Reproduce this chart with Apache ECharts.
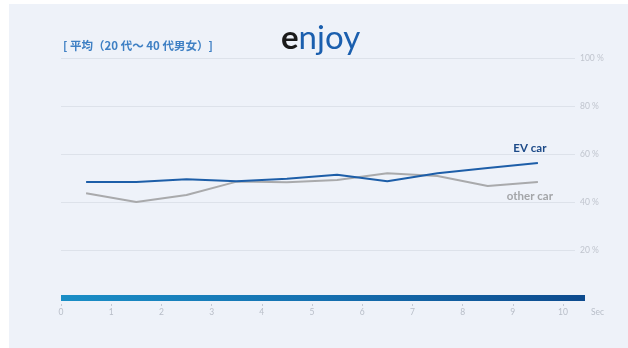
<!DOCTYPE html>
<html>
<head>
<meta charset="utf-8">
<script src="https://cdn.jsdelivr.net/npm/echarts@6/dist/echarts.min.js"></script>
<style>
  html, body { margin: 0; padding: 0; background: #ffffff; }
  #panel { position: absolute; left: 9px; top: 4px; right: 0; bottom: 0; background: #eef2f9; }
  #chart { position: absolute; left: 0; top: 0; width: 628px; height: 348px; }
</style>
</head>
<body>
<div id="panel"></div>
<div id="chart"></div>
<script>
// Time in seconds at which each sample was taken
const seconds = [0.5, 1.5, 2.5, 3.5, 4.5, 5.5, 6.5, 7.5, 8.5, 9.5];
// Average share (%) for each vehicle type
const evCar = [48.3, 48.3, 49.5, 48.6, 49.7, 51.4, 48.6, 52.0, 54.2, 56.3];
const otherCar = [43.6, 40.0, 42.9, 48.5, 48.2, 49.2, 52.0, 50.8, 46.7, 48.3];
// Axis ticks
const secTicks = [0, 1, 2, 3, 4, 5, 6, 7, 8, 9, 10];
const pctTicks = [0, 20, 40, 60, 80, 100];

const seriesNames = ['EV car', 'other car'];
const titleText = '[ 平均（20 代～ 40 代男女）]';

const chart = echarts.init(document.getElementById('chart'), null, { renderer: 'canvas' });

const pairs = (ys) => seconds.map((x, i) => [x, ys[i]]);

const option = {
  backgroundColor: 'transparent',
  animation: false,
  title: [
    {
      text: titleText,
      left: 58, top: 35,
      textStyle: { color: '#3f80c4', fontSize: 11.5, fontWeight: 'bold', fontFamily: 'Noto Sans CJK JP' }
    },
    {
      text: '{e|e}{n|njoy}',
      left: 276, top: 17,
      textStyle: {
        rich: {
          e: { color: '#1a1a1a', fontSize: 33, fontFamily: 'Lato', fontWeight: 'bold' },
          n: { color: '#1b5fae', fontSize: 33, fontFamily: 'Lato', fontWeight: 'normal' }
        }
      }
    }
  ],
  grid: [
    { left: 61, top: 58, width: 514, height: 240 },
    { left: 61, top: 58, width: 524, height: 240 }
  ],
  xAxis: [
    {
      gridIndex: 0, type: 'value', position: 'bottom', min: 0, max: 10 * 514 / 502,
      axisLine: { show: false }, axisTick: { show: false }, axisLabel: { show: false }, splitLine: { show: false }
    },
    {
      gridIndex: 1, type: 'value', position: 'bottom', min: 0, max: 10 * 524 / 502,
      axisLine: {
        show: true,
        lineStyle: {
          width: 6,
          cap: 'butt',
          color: new echarts.graphic.LinearGradient(61, 0, 585, 0, [
            { offset: 0, color: '#1a8ec6' },
            { offset: 0.5, color: '#1570b0' },
            { offset: 1, color: '#0d4b8e' }
          ], true)
        }
      },
      axisTick: { show: false }, axisLabel: { show: false }, splitLine: { show: false }
    },
    {
      gridIndex: 1, type: 'value', position: 'bottom', min: 0, max: 10 * 524 / 502, offset: 6,
      name: 'Sec', nameLocation: 'end', nameGap: 6,
      nameTextStyle: { color: '#b8bec8', fontSize: 8.5, fontFamily: 'Lato', verticalAlign: 'top', padding: [4, 0, 0, 0] },
      axisLine: { show: false },
      axisTick: { show: true, customValues: secTicks, length: 2, lineStyle: { color: '#c4c9d2', width: 1 } },
      axisLabel: { show: true, customValues: secTicks, margin: 4, color: '#b8bec8', fontSize: 8.5, fontFamily: 'Lato' },
      splitLine: { show: false }
    }
  ],
  yAxis: [
    {
      gridIndex: 0, type: 'value', min: 0, max: 100, interval: 20, position: 'right',
      axisLine: { show: false }, axisTick: { show: false },
      axisLabel: {
        margin: 5, color: '#c0c5ce', fontSize: 8.5, fontFamily: 'Lato',
        formatter: (v) => (v === 0 ? '' : v + ' %')
      },
      splitLine: { show: true, lineStyle: { color: '#dde2ea', width: 1 } }
    },
    {
      gridIndex: 1, type: 'value', min: 0, max: 100, show: false
    }
  ],
  series: [
    {
      name: seriesNames[1], type: 'line', xAxisIndex: 0, yAxisIndex: 0,
      data: pairs(otherCar), showSymbol: false, symbol: 'none',
      lineStyle: { color: '#a9aaac', width: 2 },
      endLabel: {
        show: true, formatter: seriesNames[1], distance: 0,
        align: 'center', verticalAlign: 'top', offset: [-8, 8],
        color: '#a3a5a8', fontSize: 11.5, fontWeight: 'bold', fontFamily: 'Lato'
      },
      z: 2
    },
    {
      name: seriesNames[0], type: 'line', xAxisIndex: 0, yAxisIndex: 0,
      data: pairs(evCar), showSymbol: false, symbol: 'none',
      lineStyle: { color: '#1d5ea8', width: 2 },
      endLabel: {
        show: true, formatter: seriesNames[0], distance: 0,
        align: 'center', verticalAlign: 'bottom', offset: [-8, -9],
        color: '#1c4a88', fontSize: 11.5, fontWeight: 'bold', fontFamily: 'Lato'
      },
      z: 3
    }
  ]
};

chart.setOption(option);
</script>
</body>
</html>
